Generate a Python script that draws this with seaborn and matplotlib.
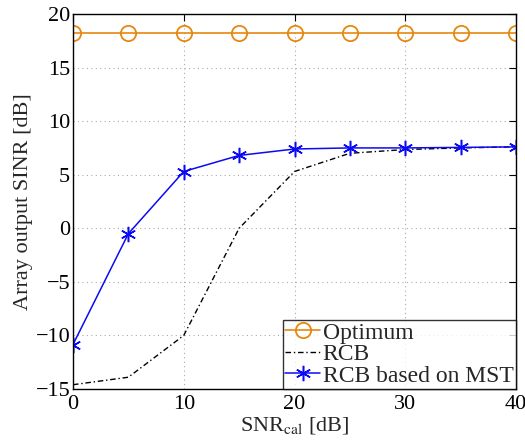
import numpy as np
import pandas as pd
import matplotlib
matplotlib.use("Agg")
import matplotlib.pyplot as plt
import seaborn as sns

snr_cal = [0, 5, 10, 15, 20, 25, 30, 35, 40]
optimum = [18.2, 18.2, 18.2, 18.2, 18.2, 18.2, 18.2, 18.2, 18.2]
rcb = [-14.6, -13.9, -10.0, 0.0, 5.3, 7.0, 7.35, 7.5, 7.6]
rcb_mst = [-10.85, -0.5, 5.3, 6.8, 7.4, 7.5, 7.5, 7.55, 7.6]
labels = ["Optimum", "RCB", "RCB based on MST"]

sns.set_style("white")
plt.rcParams["font.family"] = ["Liberation Serif", "DejaVu Serif"]
plt.rcParams["mathtext.fontset"] = "stix"

fig = plt.figure(figsize=(5.25, 4.43), dpi=100)
ax = fig.add_axes([73/525, 54/443, (516-73)/525, (389-14)/443])

df = pd.DataFrame({"x": snr_cal, "opt": optimum, "rcb": rcb, "mst": rcb_mst})
sns.lineplot(data=df, x="x", y="opt", ax=ax, color="#E8870E", lw=1.2,
             marker="o", markersize=11, markerfacecolor="none",
             markeredgecolor="#E8870E", markeredgewidth=1.3, label=labels[0])
sns.lineplot(data=df, x="x", y="rcb", ax=ax, color="black", lw=1.0,
             linestyle=(0, (4, 2, 1, 2)), label=labels[1])
sns.lineplot(data=df, x="x", y="mst", ax=ax, color="#0A0AF5", lw=1.1,
             marker=(6, 2, 0), markersize=11, markeredgewidth=1.1,
             markeredgecolor="#0A0AF5", label=labels[2])

ax.set_xlim(0, 40)
ax.set_ylim(-15, 20)
ax.set_xticks([0, 10, 20, 30, 40])
ax.set_yticks([-15, -10, -5, 0, 5, 10, 15, 20])
ax.set_yticklabels(["\u221215", "\u221210", "\u22125", "0", "5", "10", "15", "20"])
ax.grid(True, linestyle=(0, (1, 3)), color="#aaaaaa", lw=0.8)
ax.tick_params(direction="in", top=True, right=True, length=5, width=0.8,
               labelsize=16, colors="black")
ax.tick_params(axis="y", pad=2)
ax.tick_params(axis="x", pad=4)
for s in ax.spines.values():
    s.set_color("black")
    s.set_linewidth(1.0)
ax.set_xlabel(r"SNR$_{\mathrm{cal}}$ [dB]", fontsize=16, labelpad=1)
ax.set_ylabel("Array output SINR [dB]", fontsize=16, labelpad=2)

leg = ax.legend(loc="lower right", fontsize=17, frameon=True, fancybox=False,
                edgecolor="black", borderpad=0.1, labelspacing=0.0,
                handlelength=1.5, handletextpad=0.1, borderaxespad=0.0)
leg.get_frame().set_linewidth(1.0)

fig.savefig("out.png", dpi=100)
